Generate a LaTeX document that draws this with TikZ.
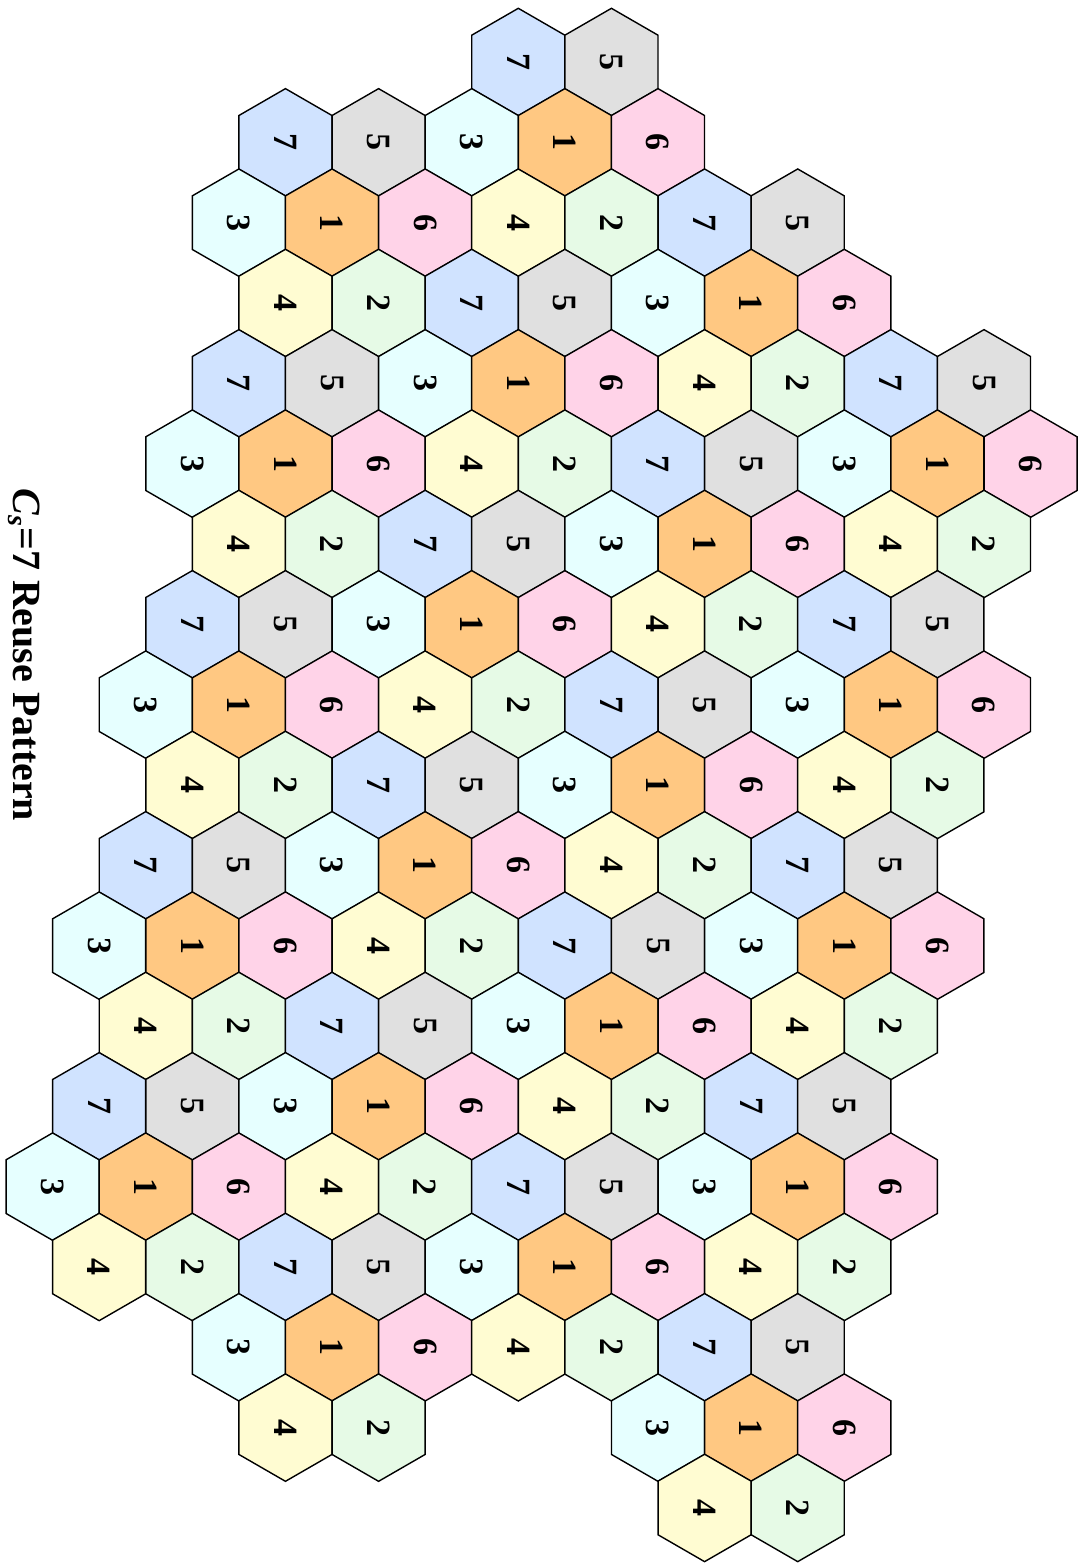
\documentclass[tikz,border=0pt]{standalone}
\usepackage{fontspec}
\setmainfont{Liberation Serif}
\usepackage{tikz}
\usetikzlibrary{shapes.geometric}

\definecolor{zone1}{HTML}{FFC882}
\definecolor{zone2}{HTML}{E6FAE6}
\definecolor{zone3}{HTML}{E6FFFF}
\definecolor{zone4}{HTML}{FFFCD2}
\definecolor{zone5}{HTML}{E0E0E0}
\definecolor{zone6}{HTML}{FFD3E8}
\definecolor{zone7}{HTML}{D0E3FF}

\tikzset{
    cell/.style={regular polygon, regular polygon sides=6, draw, line width=1.4pt,
        minimum size=107.4pt, inner sep=0pt, rotate=-90,
        font=\bfseries\fontsize{34}{34}\selectfont},
    title/.style={rotate=-90, font=\bfseries\fontsize{40}{40}\selectfont}
}

\begin{document}
\begin{tikzpicture}[x=1pt,y=-1pt]
\useasboundingbox (0,0) rectangle (1084,1564);
% row / first column / last column (columns in half-cell steps)
\foreach \r/\ka/\kb in {0/10/12, 1/5/13, 2/4/16, 3/5/17, 4/4/20, 5/3/21,
        6/4/20, 7/3/19, 8/2/20, 9/3/19, 10/2/18, 11/1/19, 12/2/18, 13/1/17,
        14/0/18, 15/1/17, 16/4/16, 17/5/7, 17/13/17, 18/14/16} {
    \pgfmathtruncatemacro{\kn}{\ka+2}
    \foreach \k in {\ka,\kn,...,\kb} {
        \pgfmathtruncatemacro{\p}{mod(4*\k+6*\r,7)}
        \pgfmathtruncatemacro{\lab}{{3,1,6,4,2,7,5}[\p]}
        \node[cell, fill=zone\lab] (h-\r-\k) at ({52.6+46.57*\k},{62+80.33*\r}) {\lab};
    }
}
\node[title] (cap) at (24,655) {\textit{C}\textsubscript{\textit{s}}=7 Reuse Pattern};
\end{tikzpicture}
\end{document}
